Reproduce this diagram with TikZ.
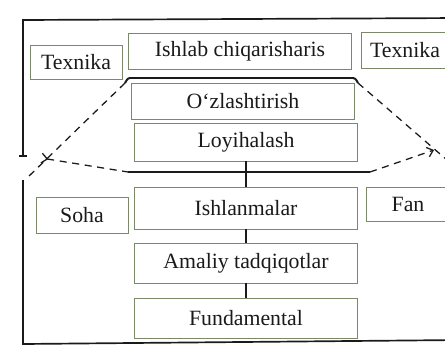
\documentclass[tikz,border=0pt]{standalone}
\usepackage{fontspec}
\setmainfont{Liberation Serif}
\usetikzlibrary{positioning, arrows.meta}
\definecolor{boxGreen}{HTML}{7A8A68}
\definecolor{inkBlack}{HTML}{1A1A1A}

\begin{document}
\begin{tikzpicture}[x=0.025cm, y=-0.025cm,
  box/.style={draw=boxGreen, line width=0.6pt, minimum height=0.9cm,
              font=\fontsize{15.5}{17}\selectfont, text=inkBlack, inner sep=2pt},
  wide/.style={box, minimum width=5.58cm},
  side/.style={box, minimum width=2.3cm},
  bar/.style={inkBlack, line width=1.4pt},
  link/.style={inkBlack, line width=1.1pt},
  guide/.style={inkBlack, line width=0.9pt, dash pattern=on 5pt off 4pt},
  frame/.style={inkBlack, line width=1.2pt}
]
\useasboundingbox (0,0) rectangle (445,350);
\clip (0,0) rectangle (445,350);

% top row
\node[side, minimum height=0.85cm] (texL) at (76,62) {Texnika};
\node[wide] (ishlab) at (240,51) {Ishlab chiqarisharis};
\node[side, minimum width=2.2cm] (texR) at (405,50) {Texnika};

% chain
\node[wide] (ozl) at (243,101) {O`zlashtirish};
\node[wide, minimum height=0.95cm] (loy) at (246,142) {Loyihalash};
\node[wide, minimum height=1.05cm] (ishl) at (246,208) {Ishlanmalar};
\node[wide, minimum height=1cm] (amal) at (246,263) {Amaliy tadqiqotlar};
\node[wide, minimum height=1cm] (fund) at (246,318) {Fundamental};

% side boxes
\node[side] (soha) at (82,215) {Soha};
\node[side, minimum width=2.1cm, minimum height=0.85cm] (fan) at (408,204) {Fan};

% brackets
\coordinate (bkL) at (125,83);
\coordinate (bkR) at (358,83);
\draw[bar, rounded corners=1.5pt] (bkL) -- (128,78) -- (355,78) -- (bkR);
\coordinate (lnL) at (128,172);
\coordinate (lnR) at (370,172);
\draw[bar] (lnL) -- (lnR);

\draw[link] (loy) -- (ishl);
\draw[link] (ishl) -- (amal);
\draw[link] (amal) -- (fund);

% dashed guides
\coordinate (outL) at (27,178);
\coordinate (tipL) at (41,158);
\coordinate (outR) at (447,160);
\coordinate (tipR) at (434,150);
\draw[guide] (bkL) -- (outL);
\draw[guide, {Straight Barb[reversed, length=4pt, width=7pt]}-] (tipL) -- (lnL);
\draw[guide] (bkR) -- (outR);
\draw[guide, -{Straight Barb[length=4pt, width=7pt]}] (lnR) -- (tipR);

% frame
\coordinate (fTR) at (460,18);
\coordinate (fTL) at (23,20);
\coordinate (gapTop) at (23,157);
\coordinate (gapBot) at (23,180);
\coordinate (fBL) at (23,344);
\coordinate (fBR) at (460,340);
\draw[frame, -{Bar[width=6pt]}] (fTR) -- (fTL) -- (gapTop);
\draw[frame] (gapBot) -- (fBL) -- (fBR);
\end{tikzpicture}
\end{document}
